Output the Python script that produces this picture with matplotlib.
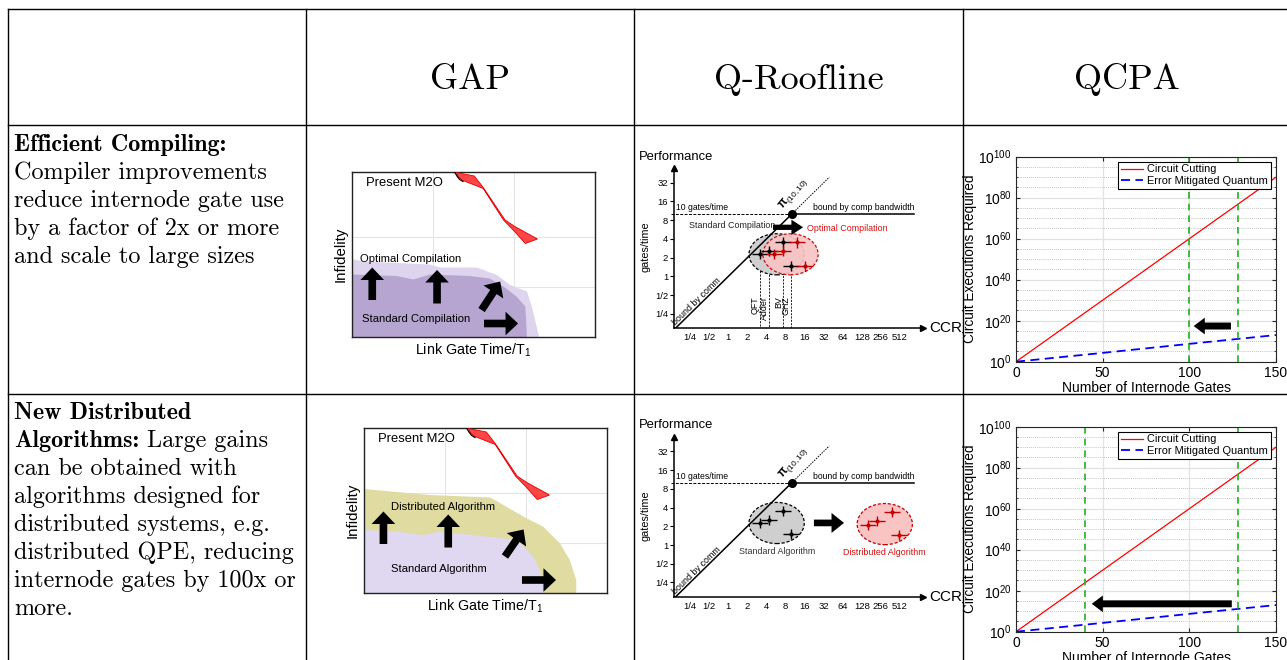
import numpy as np
import matplotlib
matplotlib.use("Agg")
import matplotlib.pyplot as plt
from matplotlib.patches import Ellipse, FancyArrowPatch, Polygon
from matplotlib.ticker import FixedLocator, FuncFormatter, NullFormatter

plt.rcParams["font.family"] = ["Liberation Sans", "DejaVu Sans"]
plt.rcParams["mathtext.fontset"] = "custom"
plt.rcParams["mathtext.rm"] = "Liberation Sans"
plt.rcParams["mathtext.it"] = "Liberation Sans:italic"
plt.rcParams["mathtext.bf"] = "Liberation Sans:bold"
plt.rcParams["axes.unicode_minus"] = False

# ---- table text ----
HEADERS = ["GAP", "Q-Roofline", "QCPA"]
ROW1_BOLD = ["Efficient Compiling:"]
ROW1_TEXT = ["Compiler improvements", "reduce internode gate use",
             "by a factor of 2x or more", "and scale to large sizes"]
ROW2_BOLD = ["New Distributed", "Algorithms:"]
ROW2_TAIL = "Large gains"
ROW2_TEXT = ["can be obtained with", "algorithms designed for",
             "distributed systems, e.g.", "distributed QPE, reducing",
             "internode gates by 100x or", "more."]

# ---- GAP sketches (link gate time vs infidelity, arbitrary units) ----
M2O_X = [1.29, 1.51, 1.62, 1.89, 2.01, 2.29, 2.14, 1.99, 1.87, 1.62, 1.37, 1.31]
M2O_Y = [3.29, 3.22, 2.99, 2.34, 2.21, 1.96, 1.87, 2.14, 2.34, 2.97, 3.13, 3.21]
M2O_HOOK_X = [1.27, 1.30, 1.33, 1.37]
M2O_HOOK_Y = [3.29, 3.21, 3.15, 3.11]

OPT_COMP_X = [0.0, 0.14, 0.96, 1.09, 1.54, 1.79, 1.95, 2.16, 2.22, 2.31]
OPT_COMP_Y = [1.56, 1.51, 1.45, 1.39, 1.39, 1.24, 1.04, 0.91, 0.61, 0.0]
STD_COMP_X = [0.0, 0.55, 0.76, 0.96, 1.46, 1.70, 1.87, 2.03, 2.14, 2.16]
STD_COMP_Y = [1.25, 1.22, 1.15, 1.25, 1.22, 1.17, 1.01, 0.81, 0.61, 0.0]
COMP_ARROWS = [((0.25, 0.74), (0.25, 1.39)), ((1.05, 0.67), (1.05, 1.34)),
               ((1.60, 0.54), (1.83, 1.11)), ((1.63, 0.27), (2.05, 0.27))]

DIST_ALG_X = [0.0, 0.20, 0.81, 1.56, 2.01, 2.21, 2.42, 2.54, 2.62, 2.62]
DIST_ALG_Y = [2.08, 2.05, 1.96, 1.91, 1.49, 1.33, 0.99, 0.66, 0.26, 0.0]
STD_ALG_X = [0.0, 0.40, 0.73, 0.94, 1.23, 1.89, 2.09, 2.17, 2.23]
STD_ALG_Y = [1.26, 1.23, 1.16, 1.23, 1.18, 1.06, 0.73, 0.46, 0.0]
ALG_ARROWS = [((0.24, 0.98), (0.24, 1.63)), ((1.04, 0.91), (1.04, 1.57)),
              ((1.74, 0.73), (1.97, 1.27)), ((1.95, 0.26), (2.37, 0.26))]

# ---- Q-Roofline ----
CCR_TICKS = [1/4, 1/2, 1, 2, 4, 8, 16, 32, 64, 128, 256, 512]
CCR_LABELS = ["1/4", "1/2", "1", "2", "4", "8", "16", "32", "64", "128", "256", "512"]
PERF_TICKS = [1/4, 1/2, 1, 2, 4, 8, 16, 32]
PERF_LABELS = ["1/4", "1/2", "1", "2", "4", "8", "16", "32"]
ROOF = 10          # gates/time, knee at CCR = 10
BENCH = ["QFT", "Adder", "BV", "GHZ"]
STD_CCR = [3.2, 4.35, 7.3, 9.6]
STD_PERF = [2.26, 2.56, 3.5, 1.48]
OPT_CCR = [5.2, 7.3, 12.1, 16.0]
OPT_PERF = [2.26, 2.56, 3.5, 1.48]
DIST_CCR = [161, 219, 378, 500]
DIST_PERF = [2.1, 2.46, 3.4, 1.45]
XERR, YERR = 0.42, 0.27   # half-width of the crosses, in doublings

# ---- QCPA ----
GATES = [0, 50, 100, 150]
CUT_EXEC = [1e0, 1e30, 1e60, 1e90]
EM_EXEC = [1e0, 10**4.3, 10**8.7, 10**13]
ROW1_LIMITS = [100, 128]
ROW2_LIMITS = [40, 128]

W, H = 1287, 660
fig = plt.figure(figsize=(W / 100, H / 100), dpi=100)
tab = fig.add_axes([0, 0, 1, 1])
tab.set_xlim(0, W)
tab.set_ylim(H, 0)
tab.axis("off")

for x in [8, 306, 634, 963]:
    tab.plot([x, x], [9, H], color="black", lw=1.0)
for y in [9, 125, 394]:
    tab.plot([8, W], [y, y], color="black", lw=1.0)

for name, cx in zip(HEADERS, [470, 799, 1127]):
    tab.text(cx, 89, name, family="cmr10", fontsize=26, ha="center", va="baseline")

BODY = dict(fontsize=17.4, va="baseline", ha="left")
y = 151
for line in ROW1_BOLD:
    tab.text(14, y, line, family="cmb10", **BODY)
    y += 28
for line in ROW1_TEXT:
    tab.text(14, y, line, family="cmr10", **BODY)
    y += 28

y = 419
tab.text(14, y, ROW2_BOLD[0], family="cmb10", **BODY)
y += 28
t = tab.text(14, y, ROW2_BOLD[1], family="cmb10", **BODY)
bb = t.get_window_extent(fig.canvas.get_renderer())
x_end = tab.transData.inverted().transform((bb.x1, 0))[0]
tab.text(x_end + 8, y, ROW2_TAIL, family="cmr10", **BODY)
y += 28
for line in ROW2_TEXT:
    tab.text(14, y, line, family="cmr10", **BODY)
    y += 28


def px_axes(l, t, r, b):
    return fig.add_axes([l / W, 1 - b / H, (r - l) / W, (b - t) / H])


def fat_arrow(ax, a, b, hl=9, hw=17, tw=5.5):
    ax.add_patch(FancyArrowPatch(a, b, arrowstyle=f"simple,head_length={hl},head_width={hw},tail_width={tw}",
                                 mutation_scale=1, color="black", lw=0, shrinkA=0, shrinkB=0, zorder=5))


def draw_gap(l, t, top_x, top_y, top_col, top_label, low_x, low_y, low_col, low_label, arrows):
    ax = px_axes(l, t, l + 243, t + 165)
    ax.set_xlim(0, 3)
    ax.set_ylim(0, 3.3)
    ax.set_xticks([1, 2])
    ax.set_yticks([1, 2])
    ax.tick_params(length=0, labelbottom=False, labelleft=False)
    ax.grid(color="#e4e4e4", lw=0.8)
    ax.set_axisbelow(True)
    for s in ax.spines.values():
        s.set_color("#222222")
        s.set_linewidth(1.0)
    ax.fill(top_x + [0], top_y + [0], color=top_col, lw=0, zorder=1)
    ax.fill(low_x + [0], low_y + [0], color=low_col, lw=0, zorder=2)
    ax.add_patch(Polygon(np.column_stack([M2O_X, M2O_Y]), closed=True, facecolor="#ff4545",
                         edgecolor="#e00000", lw=0.6, zorder=3))
    ax.plot(M2O_HOOK_X, M2O_HOOK_Y, color="black", lw=0.9, zorder=4)
    for a, b in arrows:
        fat_arrow(ax, a, b)
    ax.text(0.17, 3.08, "Present M2O", fontsize=9.4, va="center", ha="left")
    ax.text(top_label[0], top_label[1], top_label[2], fontsize=8.1, va="center", ha="left", zorder=6)
    ax.text(low_label[0], low_label[1], low_label[2], fontsize=8.1, va="center", ha="left", zorder=6)
    ax.set_ylabel("Infidelity", fontsize=10.8, labelpad=3)
    ax.set_xlabel("Link Gate Time/T$_1$", fontsize=10.3, labelpad=3)


draw_gap(352, 172, OPT_COMP_X, OPT_COMP_Y, "#ded4ee", (0.10, 1.56, "Optimal Compilation"),
         STD_COMP_X, STD_COMP_Y, "#b6a5d1", (0.12, 0.36, "Standard Compilation"), COMP_ARROWS)
draw_gap(364, 428, DIST_ALG_X, DIST_ALG_Y, "#dfdba1", (0.33, 1.71, "Distributed Algorithm"),
         STD_ALG_X, STD_ALG_Y, "#e0d7f0", (0.33, 0.47, "Standard Algorithm"), ALG_ARROWS)


def cluster(ax, ccr, perf, face, edge, alpha=1.0):
    lx, ly = np.log2(ccr), np.log2(perf)
    c = (lx.mean() + 0.05, ly.mean() - 0.05)
    ax.add_patch(Ellipse(c, 2.9, 2.2, facecolor=face, edgecolor=edge, ls=(0, (2.5, 1.5)),
                         lw=0.9, alpha=alpha, zorder=2))
    ax.errorbar(lx, ly, xerr=XERR, yerr=YERR, fmt="o", ms=2, color=edge, elinewidth=1.0,
                capsize=0, zorder=4)
    return c


def draw_roofline(top, mode):
    ax = px_axes(674.3, top, 922.7, top + 160.3)
    x0, y0 = -2.84, -2.78
    ax.set_xlim(x0, 10.2)
    ax.set_ylim(y0, 5.79)
    for s in ["top", "right"]:
        ax.spines[s].set_visible(False)
    for s in ["left", "bottom"]:
        ax.spines[s].set_linewidth(1.1)
    ax.plot(1, y0, ">k", ms=5, transform=ax.get_yaxis_transform(), clip_on=False)
    ax.plot(x0, 1, "^k", ms=5, transform=ax.get_xaxis_transform(), clip_on=False)
    ax.set_xticks(np.log2(CCR_TICKS), CCR_LABELS)
    ax.set_yticks(np.log2(PERF_TICKS), PERF_LABELS)
    ax.tick_params(axis="x", length=0, labelsize=6.8, pad=3.5)
    ax.tick_params(axis="y", length=3, width=0.8, labelsize=6.8, pad=1.5)

    knee = np.log2(ROOF)
    ax.plot([y0, knee], [y0, knee], color="black", lw=1.1, zorder=3)
    ax.plot([knee, 5.3], [knee, 5.3], color="black", lw=0.7, ls=(0, (1.5, 1.2)))
    ax.plot([-3.0, knee], [knee, knee], color="black", lw=0.7, ls=(0, (3, 1.5)), clip_on=False)
    ax.plot([knee, 9.76], [knee, knee], color="black", lw=1.1)
    ax.plot([knee], [knee], "o", color="black", ms=5.5, zorder=5)
    ax.text(-2.75, knee + 0.12, "10 gates/time", fontsize=6.2, va="bottom")
    ax.text(9.76, knee + 0.12, "bound by comp bandwidth", fontsize=6.2, va="bottom", ha="right")
    ax.text(2.85, knee + 0.25, r"$\mathbf{\pi}_{(10,10)}$", fontsize=8.5, rotation=50,
            rotation_mode="anchor", ha="left", va="baseline")
    ax.text(-1.67, -1.36, "bound by comm", fontsize=6.4, rotation=44.5, rotation_mode="anchor",
            ha="center", va="center")
    ax.text(-4.7, 6.4, "Performance", fontsize=9.4, ha="left", va="center", clip_on=False)
    ax.text(10.55, y0, "CCR", fontsize=11, ha="left", va="center", clip_on=False)
    ax.text(-4.33, 1.57, "gates/time", fontsize=7.8, rotation=90, ha="center", va="center")

    gc = cluster(ax, STD_CCR, STD_PERF, "#cfcfcf", "black")
    if mode == "compile":
        cluster(ax, OPT_CCR, OPT_PERF, "#f9c4c4", "#c00000", alpha=0.92)
        for name, c, p in zip(BENCH, STD_CCR, STD_PERF):
            ax.plot([np.log2(c)] * 2, [np.log2(p), y0], color="black", lw=0.6, ls=(0, (2.5, 1.5)), zorder=1)
            ax.text(np.log2(c) - 0.25, -1.05, name, fontsize=6.4, rotation=90, ha="center", va="top")
        ax.text(-2.08, 2.69, "Standard Compilation", fontsize=6.4, va="center", color="#222222")
        ax.text(4.13, 2.58, "Optimal Compilation", fontsize=6.4, va="center", color="#d01010")
        fat_arrow(ax, (2.34, 2.62), (3.92, 2.62), hl=8.4, hw=11, tw=3.8)
    else:
        dc = cluster(ax, DIST_CCR, DIST_PERF, "#f9c4c4", "#c00000")
        ax.text(gc[0], gc[1] - 1.5, "Standard Algorithm", fontsize=6.4, ha="center", va="center",
                color="#333333")
        ax.text(dc[0], dc[1] - 1.5, "Distributed Algorithm", fontsize=6.4, ha="center", va="center",
                color="#d01010")
        fat_arrow(ax, (4.49, 1.18), (6.07, 1.18), hl=9, hw=14.4, tw=4.8)


draw_roofline(168, "compile")
draw_roofline(436.7, "distributed")


def draw_qcpa(top, limits, arrow_x, arrow_y):
    ax = px_axes(1016, top, 1276, top + 205)
    ax.semilogy(GATES, CUT_EXEC, color="red", lw=0.9, label="Circuit Cutting")
    ax.semilogy(GATES, EM_EXEC, color="blue", lw=1.3, ls=(0, (5, 3)), label="Error Mitigated Quantum")
    for g in limits:
        ax.axvline(g, color="#22b022", lw=1.2, ls=(0, (4, 3)))
    ax.add_patch(FancyArrowPatch((arrow_x[0], arrow_y), (arrow_x[1], arrow_y),
                                 arrowstyle="simple,head_length=8,head_width=12,tail_width=5",
                                 mutation_scale=1, color="black", lw=0, shrinkA=0, shrinkB=0, zorder=5))
    ax.set_xlim(0, 150)
    ax.set_ylim(1, 1e100)
    ax.set_xticks([0, 50, 100, 150])
    ax.yaxis.set_major_locator(FixedLocator(10.0 ** np.arange(0, 101, 20)))
    ax.yaxis.set_minor_locator(FixedLocator(10.0 ** np.arange(0, 101, 5)))
    ax.yaxis.set_major_formatter(FuncFormatter(lambda v, _: rf"$10^{{{int(round(np.log10(v)))}}}$"))
    ax.yaxis.set_minor_formatter(NullFormatter())
    ax.grid(which="major", color="#e2e2e2", lw=0.9)
    ax.grid(which="minor", axis="y", color="#b0b0b0", lw=0.6, ls=(0, (1, 1.5)))
    ax.set_axisbelow(True)
    ax.tick_params(which="both", direction="in", top=True, right=True, labelsize=10,
                   color="#262626", pad=3)
    ax.tick_params(which="major", length=3)
    ax.tick_params(which="minor", length=1.5)
    for s in ax.spines.values():
        s.set_color("#262626")
        s.set_linewidth(0.8)
    ax.set_xlabel("Number of Internode Gates", fontsize=10, labelpad=1)
    ax.set_ylabel("Circuit Executions Required", fontsize=9.8, labelpad=1)
    leg = ax.legend(loc="upper right", fontsize=7.9, frameon=True, fancybox=False,
                    edgecolor="black", framealpha=1, borderpad=0.25, labelspacing=0.15,
                    handlelength=2.0, handletextpad=0.4, borderaxespad=0.45)
    leg.get_frame().set_linewidth(0.8)


draw_qcpa(156.7, ROW1_LIMITS, (124, 102.5), 10**17.4)
draw_qcpa(426.7, ROW2_LIMITS, (124.5, 43.7), 10**13.6)

fig.savefig("out.png", dpi=100)
